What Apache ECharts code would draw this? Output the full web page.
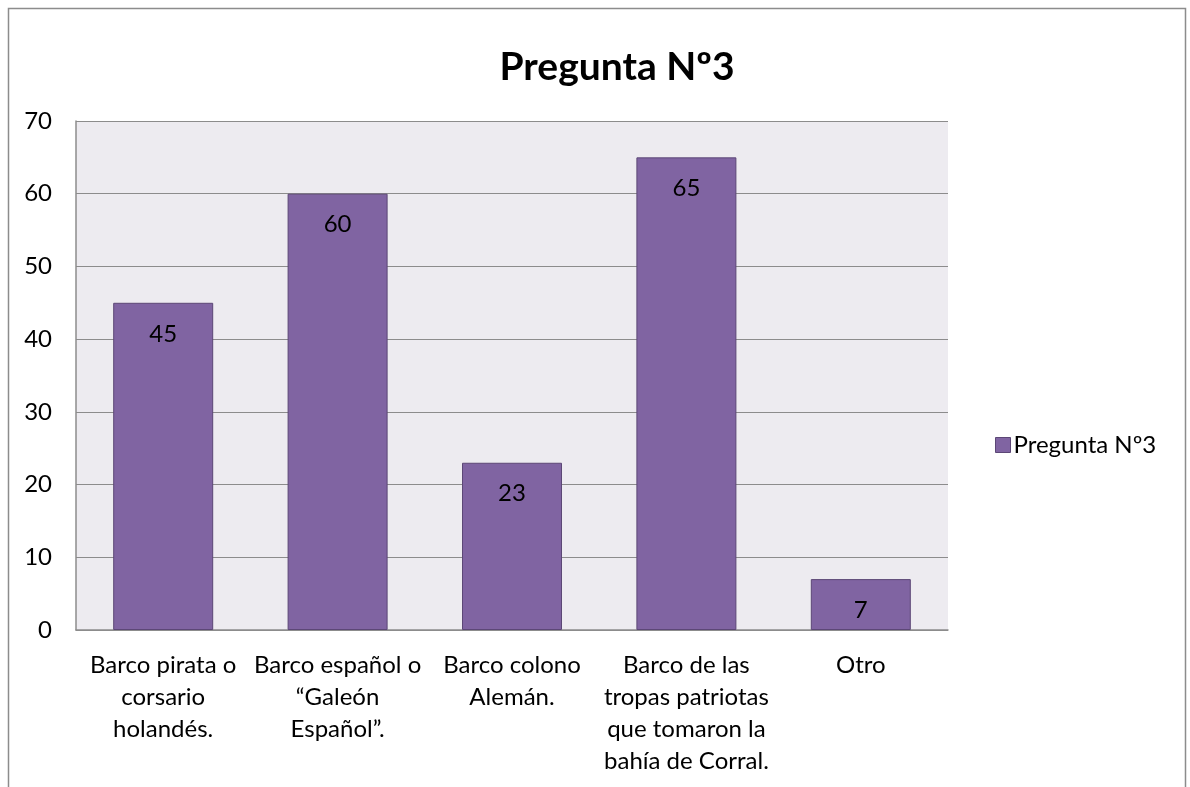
<!DOCTYPE html>
<html>
<head>
<meta charset="utf-8">
<script src="https://cdn.jsdelivr.net/npm/echarts@6/dist/echarts.min.js"></script>
<style>
  html, body { margin: 0; padding: 0; background: #fff; }
  #chart { width: 1190px; height: 787px; }
</style>
</head>
<body>
<div id="chart"></div>
<script>
const categories = [
  'Barco pirata o\ncorsario\nholandés.',
  'Barco español o\n“Galeón\nEspañol”.',
  'Barco colono\nAlemán.',
  'Barco de las\ntropas patriotas\nque tomaron la\nbahía de Corral.',
  'Otro'
]
const values = [45, 60, 23, 65, 7]
const seriesName = 'Pregunta Nº3'
const yTicks = { min: 0, max: 70, interval: 10 }

const font = 'Lato, "Open Sans", sans-serif'
const chart = echarts.init(document.getElementById('chart'))

chart.setOption({
  backgroundColor: '#fff',
  animation: false,
  textStyle: { fontFamily: font },
  graphic: [{
    type: 'rect',
    shape: { x: 8.5, y: 8.5, width: 1177, height: 820 },
    style: { fill: 'none', stroke: '#8c8c8c', lineWidth: 1.5 },
    silent: true
  }],
  title: {
    text: 'Pregunta Nº3',
    left: 612,
    top: 43,
    textAlign: 'center',
    textStyle: { fontFamily: font, fontSize: 39, fontWeight: 'bold', color: '#000' }
  },
  legend: {
    data: [seriesName],
    left: 990,
    top: 428,
    icon: 'rect',
    itemWidth: 15,
    itemHeight: 15,
    itemGap: 6,
    itemStyle: { borderColor: '#5C4776', borderWidth: 1 },
    textStyle: { fontFamily: font, fontSize: 24, color: '#000', padding: [0, 0, 0, -2] }
  },
  grid: {
    left: 76,
    right: 242,
    top: 121,
    bottom: 157,
    show: true,
    backgroundColor: '#EDEBF0',
    borderWidth: 0
  },
  xAxis: {
    type: 'category',
    data: categories,
    axisLine: { show: true, lineStyle: { color: '#8c8c8c', width: 1.5 } },
    axisTick: { show: false },
    axisLabel: {
      color: '#000',
      fontFamily: font,
      fontSize: 24,
      lineHeight: 32,
      margin: 19,
      interval: 0,
      align: 'center'
    }
  },
  yAxis: {
    type: 'value',
    min: yTicks.min,
    max: yTicks.max,
    interval: yTicks.interval,
    axisLine: { show: true, lineStyle: { color: '#8c8c8c', width: 1.5 } },
    axisTick: { show: false },
    axisLabel: { color: '#000', fontFamily: font, fontSize: 24, margin: 24 },
    splitLine: { show: true, lineStyle: { color: '#8c8c8c', width: 1.2 } }
  },
  series: [{
    name: seriesName,
    type: 'bar',
    data: values,
    barWidth: 100,
    itemStyle: { color: '#8064A2', borderColor: '#5C4776', borderWidth: 1 },
    label: {
      show: true,
      position: 'insideTop',
      distance: 19,
      color: '#000',
      fontFamily: font,
      fontSize: 24
    }
  }]
})
</script>
</body>
</html>
